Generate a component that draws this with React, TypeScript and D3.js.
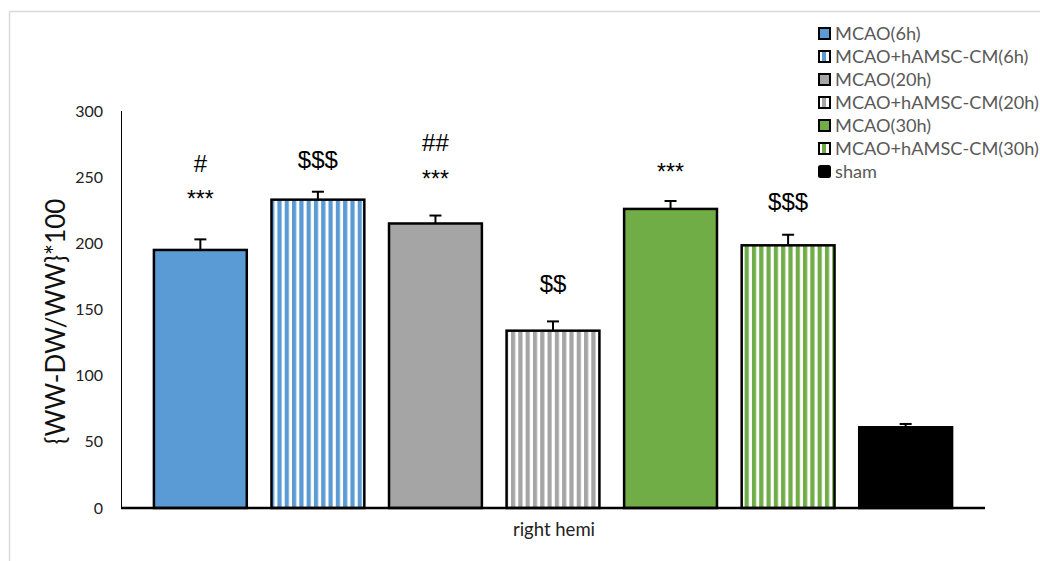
import React from "react";
import * as d3 from "d3";

const series = [
  "MCAO(6h)",
  "MCAO+hAMSC-CM(6h)",
  "MCAO(20h)",
  "MCAO+hAMSC-CM(20h)",
  "MCAO(30h)",
  "MCAO+hAMSC-CM(30h)",
  "sham",
];
const values = [195, 233, 215, 134, 226, 198.5, 61];
const errors = [8, 6, 6, 7, 6, 8, 2.5];
const colors = ["#5B9BD5", "#5B9BD5", "#A5A5A5", "#A5A5A5", "#70AD47", "#70AD47", "#000000"];
const striped = [false, true, false, true, false, true, false];
const topMarks = ["#", "$$$", "##", "$$", "", "$$$", ""];
const topMarkAt = [254, 257, 270, 163, 0, 225, 0];
const starMarks = ["***", "", "***", "", "***", "", ""];
const starAt = [227.5, 0, 242.6, 0, 248, 0, 0];
const yTicks = [0, 50, 100, 150, 200, 250, 300];
const category = "right hemi";
const yLabel = "{WW-DW/WW}*100";

const W = 1040;
const H = 561;
const X0 = 121;
const X1 = 985;
const Y0 = 508;
const Y1 = 111;

export default function App() {
  const x = d3
    .scaleBand<number>()
    .domain(series.map((_, i) => i))
    .range([X0, X1])
    .paddingInner(0.21)
    .paddingOuter(0.28);
  const y = d3.scaleLinear().domain([0, 300]).range([Y0, Y1]);
  const bw = x.bandwidth();
  const font = "Lato, 'Open Sans', sans-serif";
  const annFont = "'Liberation Sans', Arial, sans-serif";

  return (
    <svg
      width={W}
      height={H}
      style={{ position: "absolute", left: 0, top: 0, background: "#fff" }}
    >
      <defs>
        {colors.map((c, i) =>
          striped[i] ? (
            <pattern key={i} id={`stripe${i}`} width={7.3} height={10} patternUnits="userSpaceOnUse">
              <rect x={0} y={0} width={7.3} height={10} fill="#fff" />
              <rect x={0} y={0} width={4.2} height={10} fill={c} />
            </pattern>
          ) : null
        )}
        {colors.map((c, i) =>
          striped[i] ? (
            <pattern key={"l" + i} id={`lstripe${i}`} width={7} height={10} patternUnits="userSpaceOnUse" x={0}>
              <rect x={0} y={0} width={7} height={10} fill="#fff" />
              <rect x={3} y={0} width={4} height={10} fill={c} />
            </pattern>
          ) : null
        )}
      </defs>
      {/* outer frame */}
      <line x1={9.5} y1={11.5} x2={W} y2={11.5} stroke="#d9d9d9" strokeWidth={1.5} />
      <line x1={9.5} y1={11.5} x2={9.5} y2={H} stroke="#d9d9d9" strokeWidth={1.5} />

      {/* y axis */}
      <line x1={X0 + 0.5} y1={y(300)} x2={X0 + 0.5} y2={Y0} stroke="#000" strokeWidth={1} />
      {yTicks.map((t) => (
        <text
          key={t}
          x={103}
          y={y(t)}
          dy="0.35em"
          textAnchor="end"
          fontFamily={font}
          fontSize={16}
          fill="#222"
        >
          {t}
        </text>
      ))}
      <text
        transform={`translate(65,${(Y0 + Y1) / 2 + 12}) rotate(-90)`}
        textAnchor="middle"
        fontFamily={font}
        fontSize={26}
        fill="#111"
      >
        {yLabel}
      </text>

      {/* bars */}
      {values.map((v, i) => {
        const bx = x(i)!;
        const top = y(v);
        const cx = bx + bw / 2;
        const et = y(v + errors[i]);
        return (
          <g key={i}>
            <line x1={cx} x2={cx} y1={top} y2={et} stroke="#000" strokeWidth={2} />
            <line x1={cx - 6} x2={cx + 6} y1={et} y2={et} stroke="#000" strokeWidth={2} />
            <rect
              x={bx}
              y={top}
              width={bw}
              height={Y0 - top}
              fill={striped[i] ? `url(#stripe${i})` : colors[i]}
              stroke="#000"
              strokeWidth={2.5}
            />
          </g>
        );
      })}

      {/* annotations */}
      {values.map((v, i) => {
        const cx = x(i)! + bw / 2;
        return (
          <g key={"a" + i} fontFamily={annFont} fill="#000" textAnchor="middle">
            {starMarks[i] && (
              <text x={cx} y={y(starAt[i])} fontSize={23}>
                {starMarks[i]}
              </text>
            )}
            {topMarks[i] && (
              <text x={cx} y={y(topMarkAt[i])} fontSize={24}>
                {topMarks[i]}
              </text>
            )}
          </g>
        );
      })}

      {/* x axis */}
      <line x1={X0} y1={Y0} x2={X1} y2={Y0} stroke="#000" strokeWidth={2.5} />
      <text
        x={(X0 + X1) / 2 + 1}
        y={536}
        textAnchor="middle"
        fontFamily={font}
        fontSize={18.5}
        fill="#222"
      >
        {category}
      </text>

      {/* legend */}
      {series.map((s, i) => {
        const ly = 34 + i * 23;
        return (
          <g key={"lg" + i}>
            <rect
              x={819}
              y={ly - 6}
              width={11}
              height={11}
              fill={striped[i] ? `url(#lstripe${i})` : colors[i]}
              stroke="#000"
              strokeWidth={2}
              rx={i === 6 ? 1.5 : 0}
            />
            <text
              x={835}
              y={ly}
              dy="0.35em"
              fontFamily={font}
              fontSize={18.2}
              fill="#595959"
            >
              {s}
            </text>
          </g>
        );
      })}
    </svg>
  );
}
